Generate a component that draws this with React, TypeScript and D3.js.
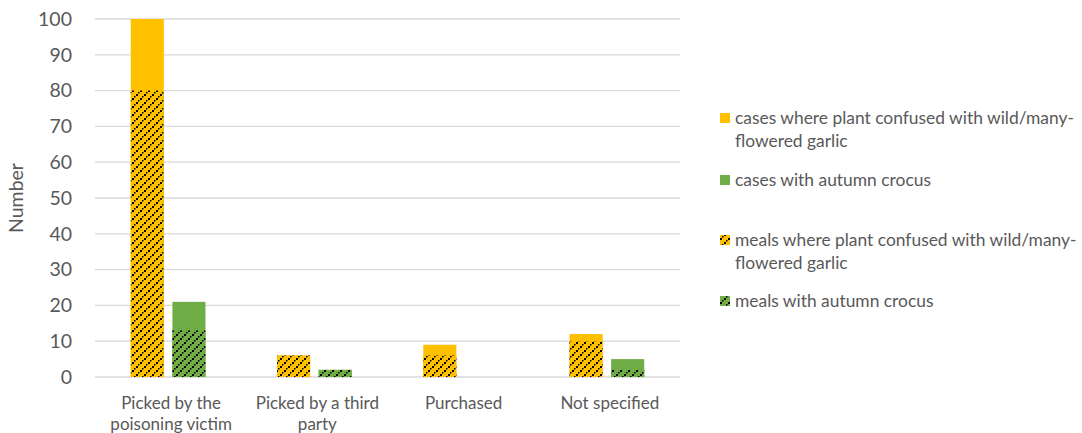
import React from "react";
import * as d3 from "d3";

const categories = [
  ["Picked by the", "poisoning victim"],
  ["Picked by a third", "party"],
  ["Purchased"],
  ["Not specified"],
];
const casesGarlic = [100, 6, 9, 12];
const casesCrocus = [21, 2, 0, 5];
const mealsGarlic = [80, 6, 6, 10];
const mealsCrocus = [13, 2, 0, 2];
const yTicks = [0, 10, 20, 30, 40, 50, 60, 70, 80, 90, 100];
const legendItems = [
  { lines: ["cases where plant confused with wild/many-", "flowered garlic"], color: "#FFC000", hatch: false },
  { lines: ["cases with autumn crocus"], color: "#70AD47", hatch: false },
  { lines: ["meals where plant confused with wild/many-", "flowered garlic"], color: "#FFC000", hatch: true },
  { lines: ["meals with autumn crocus"], color: "#70AD47", hatch: true },
];

const W = 1082, H = 433;
const FONT = "Lato, 'Open Sans', sans-serif";
const TXT = "#595959";

export default function App() {
  const left = 95, right = 680, top = 19, bottom = 377;
  const x0 = d3.scaleBand<number>().domain(d3.range(categories.length)).range([left, right]).padding(0);
  const x1 = d3.scaleBand<string>().domain(["garlic", "crocus"]).range([0, x0.bandwidth()]).paddingInner(0.205).paddingOuter(0.86);
  const y = d3.scaleLinear().domain([0, 100]).range([bottom, top]);
  const bw = x1.bandwidth();

  const series = [
    { key: "garlic", cases: casesGarlic, meals: mealsGarlic, color: "#FFC000", pat: "hatchY" },
    { key: "crocus", cases: casesCrocus, meals: mealsCrocus, color: "#70AD47", pat: "hatchG" },
  ];

  const legendY = [118, 180, 240, 301];

  return (
    <svg width={W} height={H} style={{ position: "absolute", left: 0, top: 0, background: "#fff" }}>
      <defs>
        {series.map((s) => (
          <pattern key={s.pat} id={s.pat} width={8} height={8} patternUnits="userSpaceOnUse">
            <rect width={8} height={8} fill={s.color} />
            <rect x={0} y={6} width={2} height={2} fill="#000" />
            <rect x={2} y={4} width={1.5} height={1.5} fill="#000" />
            <rect x={4} y={2} width={2} height={2} fill="#000" />
            <rect x={6} y={0} width={1.5} height={1.5} fill="#000" />
          </pattern>
        ))}
      </defs>
      <rect width={W} height={H} fill="#fff" />
      {yTicks.map((t) => (
        <g key={t}>
          <line x1={left} x2={right} y1={y(t)} y2={y(t)} stroke="#D9D9D9" strokeWidth={1.3} />
          <text x={72} y={y(t)} dy="0.35em" textAnchor="end" fontFamily={FONT} fontSize={19.5} fill={TXT}>{t}</text>
        </g>
      ))}
      <text transform={`translate(16,${(top + bottom) / 2}) rotate(-90)`} textAnchor="middle" dy="0.35em" fontFamily={FONT} fontSize={19.5} fill={TXT}>Number</text>
      {categories.map((c, i) => (
        <g key={i}>
          {series.map((s) => {
            const bx = (x0(i) as number) + (x1(s.key) as number);
            return (
              <g key={s.key}>
                {s.cases[i] > 0 && (
                  <rect x={bx} y={y(s.cases[i])} width={bw} height={y(0) - y(s.cases[i])} fill={s.color} />
                )}
                {s.meals[i] > 0 && (
                  <rect x={bx} y={y(s.meals[i])} width={bw} height={y(0) - y(s.meals[i])} fill={`url(#${s.pat})`} />
                )}
              </g>
            );
          })}
          {c.map((line, j) => (
            <text key={j} x={(x0(i) as number) + x0.bandwidth() / 2 + 3} y={409 + j * 21} textAnchor="middle" fontFamily={FONT} fontSize={17} fill={TXT}>{line}</text>
          ))}
        </g>
      ))}
      {legendItems.map((it, k) => (
        <g key={k}>
          <rect x={720} y={legendY[k] - 5} width={10} height={10} fill={it.hatch ? `url(#${it.color === "#FFC000" ? "hatchY" : "hatchG"})` : it.color} />
          {it.lines.map((l, j) => (
            <text key={j} x={735} y={legendY[k] + j * 23} dy="0.35em" fontFamily={FONT} fontSize={17.4} fill={TXT}>{l}</text>
          ))}
        </g>
      ))}
    </svg>
  );
}
